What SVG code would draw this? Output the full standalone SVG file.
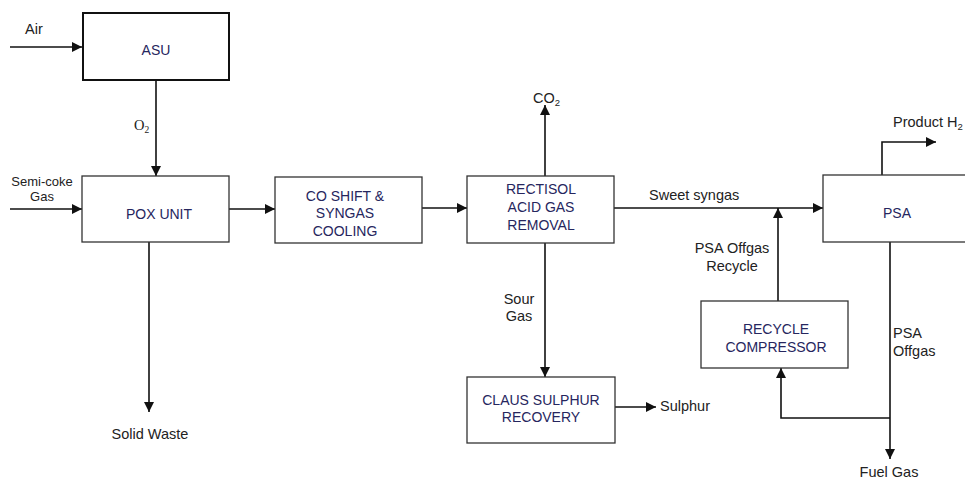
<svg xmlns="http://www.w3.org/2000/svg" width="965" height="479" viewBox="0 0 965 479">
<style>
.box{fill:#fff;stroke:#333;stroke-width:1.3}
.thick{stroke:#111;stroke-width:2}
.nt{font-family:"Liberation Sans",Arial,sans-serif;font-size:14px;fill:#26265e;text-anchor:middle}
.lt{font-family:"Liberation Sans",Arial,sans-serif;font-size:14.5px;fill:#222}
.sm{font-size:13px}
.ln{fill:none;stroke:#111;stroke-width:1.6}
</style>
<defs>
<marker id="ah" viewBox="0 0 10 10" refX="10" refY="5" markerWidth="10" markerHeight="10" markerUnits="userSpaceOnUse" orient="auto">
<path d="M0,0 L10,5 L0,10 z" fill="#111"/>
</marker>
</defs>
<rect width="965" height="479" fill="#fff"/>
<g id="connectors">
<path class="ln" d="M10,47 H82" marker-end="url(#ah)"/>
<path class="ln" d="M156,81 V176" marker-end="url(#ah)"/>
<path class="ln" d="M10,209 H82" marker-end="url(#ah)"/>
<path class="ln" d="M229,209 H275" marker-end="url(#ah)"/>
<path class="ln" d="M422,208 H467" marker-end="url(#ah)"/>
<path class="ln" d="M545,176 V105" marker-end="url(#ah)"/>
<path class="ln" d="M614,208 H823" marker-end="url(#ah)"/>
<path class="ln" d="M882,175 V142 H936" marker-end="url(#ah)"/>
<path class="ln" d="M778,301 V208" marker-end="url(#ah)"/>
<path class="ln" d="M890,242 V459" marker-end="url(#ah)"/>
<path class="ln" d="M890,418 H781 V368" marker-end="url(#ah)"/>
<path class="ln" d="M545,243 V377" marker-end="url(#ah)"/>
<path class="ln" d="M615,407 H656" marker-end="url(#ah)"/>
<path class="ln" d="M149,242 V412" marker-end="url(#ah)"/>
</g>
<g id="asu">
<rect class="box thick" x="83" y="13" width="146" height="67"/>
<text class="nt" x="156" y="55">ASU</text>
</g>
<g id="pox">
<rect class="box" x="82" y="176" width="147" height="66"/>
<text class="nt" x="159" y="219">POX UNIT</text>
</g>
<g id="coshift">
<rect class="box" x="275" y="177" width="147" height="66"/>
<text class="nt" x="345" y="201">CO SHIFT &amp;</text>
<text class="nt" x="345" y="218">SYNGAS</text>
<text class="nt" x="345" y="236">COOLING</text>
</g>
<g id="rectisol">
<rect class="box" x="467" y="176" width="147" height="67"/>
<text class="nt" x="541" y="194">RECTISOL</text>
<text class="nt" x="541" y="212">ACID GAS</text>
<text class="nt" x="541" y="230">REMOVAL</text>
</g>
<g id="psa">
<rect class="box" x="823" y="175" width="150" height="67"/>
<text class="nt" x="897" y="218">PSA</text>
</g>
<g id="recycle">
<rect class="box" x="701" y="301" width="147" height="67"/>
<text class="nt" x="776" y="334">RECYCLE</text>
<text class="nt" x="776" y="352">COMPRESSOR</text>
</g>
<g id="claus">
<rect class="box" x="467" y="377" width="148" height="66"/>
<text class="nt" x="541" y="405">CLAUS SULPHUR</text>
<text class="nt" x="541" y="422">RECOVERY</text>
</g>
<g id="labels">
<text class="lt" x="25" y="34">Air</text>
<text class="lt" x="134" y="130" style="font-family:'Liberation Serif',serif">O<tspan font-size="9.5" dy="3">2</tspan></text>
<text class="lt sm" x="42" y="186" text-anchor="middle">Semi-coke</text>
<text class="lt sm" x="42" y="201" text-anchor="middle">Gas</text>
<text class="lt" x="533" y="103">CO<tspan font-size="9.5" dy="3">2</tspan></text>
<text class="lt" x="649" y="200">Sweet syngas</text>
<text class="lt" x="893" y="127">Product H<tspan font-size="9.5" dy="3">2</tspan></text>
<text class="lt" x="732" y="253" text-anchor="middle">PSA Offgas</text>
<text class="lt" x="732" y="271" text-anchor="middle">Recycle</text>
<text class="lt" x="519" y="304" text-anchor="middle">Sour</text>
<text class="lt" x="519" y="321" text-anchor="middle">Gas</text>
<text class="lt" x="660" y="411">Sulphur</text>
<text class="lt" x="893" y="338">PSA</text>
<text class="lt" x="893" y="356">Offgas</text>
<text class="lt" x="150" y="439" text-anchor="middle">Solid Waste</text>
<text class="lt" x="889" y="477" text-anchor="middle">Fuel Gas</text>
</g>
</svg>
